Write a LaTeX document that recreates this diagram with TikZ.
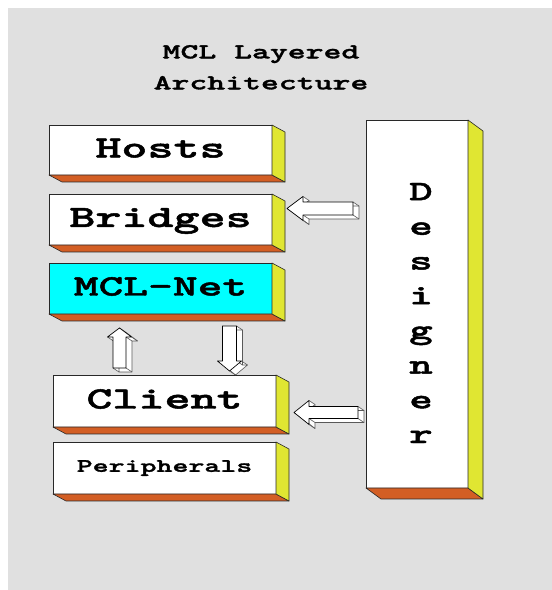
\documentclass[tikz,border=0pt]{standalone}
\usepackage{fontspec}
\usetikzlibrary{calc}
% wide slab-serif typewriter face used for every label
\newfontfamily\slabmono{lmmonolt10-bold.otf}[FakeStretch=1.6, FakeBold=1.6]

\definecolor{panel}{RGB}{224,224,224}
\definecolor{sideyellow}{RGB}{224,230,50}
\definecolor{baseorange}{RGB}{211,94,36}
\definecolor{netcyan}{RGB}{0,255,255}
\definecolor{edge}{RGB}{40,40,40}

\tikzset{
  layer/.style={draw=edge, line width=0.8pt, fill=white, minimum width=223pt,
    inner sep=0pt, outer sep=0pt, text depth=4pt},
  sideface/.style={fill=sideyellow, draw=edge, line width=0.6pt, line join=round},
  baseface/.style={fill=baseorange, draw=edge, line width=0.6pt, line join=round},
  arrfront/.style={fill=white, draw=black, line width=0.7pt, line join=round},
  arrback/.style={fill=white, draw=black!65, line width=0.6pt, line join=round},
  arredge/.style={draw=black!65, line width=0.6pt},
}

% extruded right and bottom faces of a box node: #1 node, #2 dx, #3 drop
\newcommand\slab[3]{%
  \filldraw[baseface] (#1.south west) -- (#1.south east) -- ++(#2,-#3)
    -- ([shift={(#2,-#3)}]#1.south west) -- cycle;
  \filldraw[sideface] (#1.north east) -- ++(#2,-#3)
    -- ([shift={(#2,-#3)}]#1.south east) -- (#1.south east) -- cycle;
}

% 3-D block arrow: #1 tip, #2 tail, #3 rotation of a left-pointing arrow,
% #4 head length, #5 half shaft width, #6 prefix for the corner names
\newcommand\blockarrow[6]{%
  \path let \p1=(#1), \p2=(#2), \n1={veclen(\x2-\x1,\y2-\y1)} in
    \pgfextra{\xdef\shaftend{\n1}};
  \begin{scope}[shift={(#1)}, rotate=#3]
    \coordinate (#6a) at (0,0);
    \coordinate (#6b) at (#4,12);
    \coordinate (#6c) at (#4,#5);
    \coordinate (#6d) at (\shaftend,#5);
    \coordinate (#6e) at (\shaftend,-#5);
    \coordinate (#6f) at (#4,-#5);
    \coordinate (#6g) at (#4,-12);
  \end{scope}
  \foreach \u/\w in {a/b,b/c,c/d,d/e,e/f,f/g,g/a}
    \fill[white] (#6\u) -- (#6\w) -- ([shift={(6,-4)}]#6\w) -- ([shift={(6,-4)}]#6\u) -- cycle;
  \filldraw[arrback] ([shift={(6,-4)}]#6a) -- ([shift={(6,-4)}]#6b) -- ([shift={(6,-4)}]#6c)
    -- ([shift={(6,-4)}]#6d) -- ([shift={(6,-4)}]#6e) -- ([shift={(6,-4)}]#6f)
    -- ([shift={(6,-4)}]#6g) -- cycle;
  \foreach \v in {a,...,g} \draw[arredge] (#6\v) -- ([shift={(6,-4)}]#6\v);
  \filldraw[arrfront] (#6a) -- (#6b) -- (#6c) -- (#6d) -- (#6e) -- (#6f) -- (#6g) -- cycle;
}

\begin{document}
\begin{tikzpicture}[x=1pt, y=1pt]
  \useasboundingbox (0,0) rectangle (552,590);
  \fill[white] (0,0) rectangle (552,590);
  \fill[panel] (8,0) rectangle (552,582);

  \node[font=\slabmono\fontsize{21.3}{31}\selectfont, align=center] (title)
    at (261,522.7) {MCL Layered\\Architecture};

  % layer stack
  \node[layer, minimum height=50pt, text height=19pt,
    font=\slabmono\fontsize{31}{31}\selectfont] (hosts) at (160.5,440) {Hosts};
  \node[layer, minimum height=51pt, text height=19pt,
    font=\slabmono\fontsize{31}{31}\selectfont] (bridges) at (160.5,370.5) {Bridges};
  \node[layer, fill=netcyan, minimum height=51pt, text height=18pt,
    font=\slabmono\fontsize{29.5}{29.5}\selectfont] (mclnet) at (160.5,301.5) {MCL-Net};
  \node[layer, minimum height=52pt, text height=19pt,
    font=\slabmono\fontsize{31}{31}\selectfont] (client) at (164.5,189) {Client};
  \node[layer, minimum height=52pt, text height=11.6pt,
    font=\slabmono\fontsize{19}{19}\selectfont] (periph) at (164.5,122) {Peripherals};

  % designer column
  \node[layer, minimum width=102pt, minimum height=368pt] (designer) at (417,286) {};
  \node[font=\slabmono\fontsize{28}{34.7}\selectfont, align=center, inner sep=0pt]
    (designerlabel) at (421,277) {D\\e\\s\\i\\g\\n\\e\\r};

  \slab{hosts}{13}{7}
  \slab{bridges}{13}{7}
  \slab{mclnet}{13}{7}
  \slab{client}{13}{7}
  \slab{periph}{13}{7}
  \slab{designer}{15}{11}

  % designer -> bridges
  \coordinate (brtip) at ($(bridges.east)+(15,11)$);
  \coordinate (brtail) at ($(designer.west |- brtip)+(-13,0)$);
  \blockarrow{brtip}{brtail}{0}{16}{6.5}{ba}

  % designer -> client
  \coordinate (cltip) at ($(client.east)+(18,-11.5)$);
  \coordinate (cltail) at ($(designer.west |- cltip)+(-8,0)$);
  \blockarrow{cltip}{cltail}{0}{15}{6}{ca}

  % client -> MCL-Net
  \coordinate (uptip) at ($(mclnet.south)+(-41,-14)$);
  \coordinate (uptail) at ($(client.north -| uptip)+(0,7)$);
  \blockarrow{uptip}{uptail}{-90}{9}{6.5}{ua}

  % MCL-Net -> client
  \coordinate (dntail) at ($(mclnet.south)+(69,-12)$);
  \coordinate (dntip) at ($(client.north -| dntail)+(0,4)$);
  \blockarrow{dntip}{dntail}{90}{10}{7}{da}
\end{tikzpicture}
\end{document}
